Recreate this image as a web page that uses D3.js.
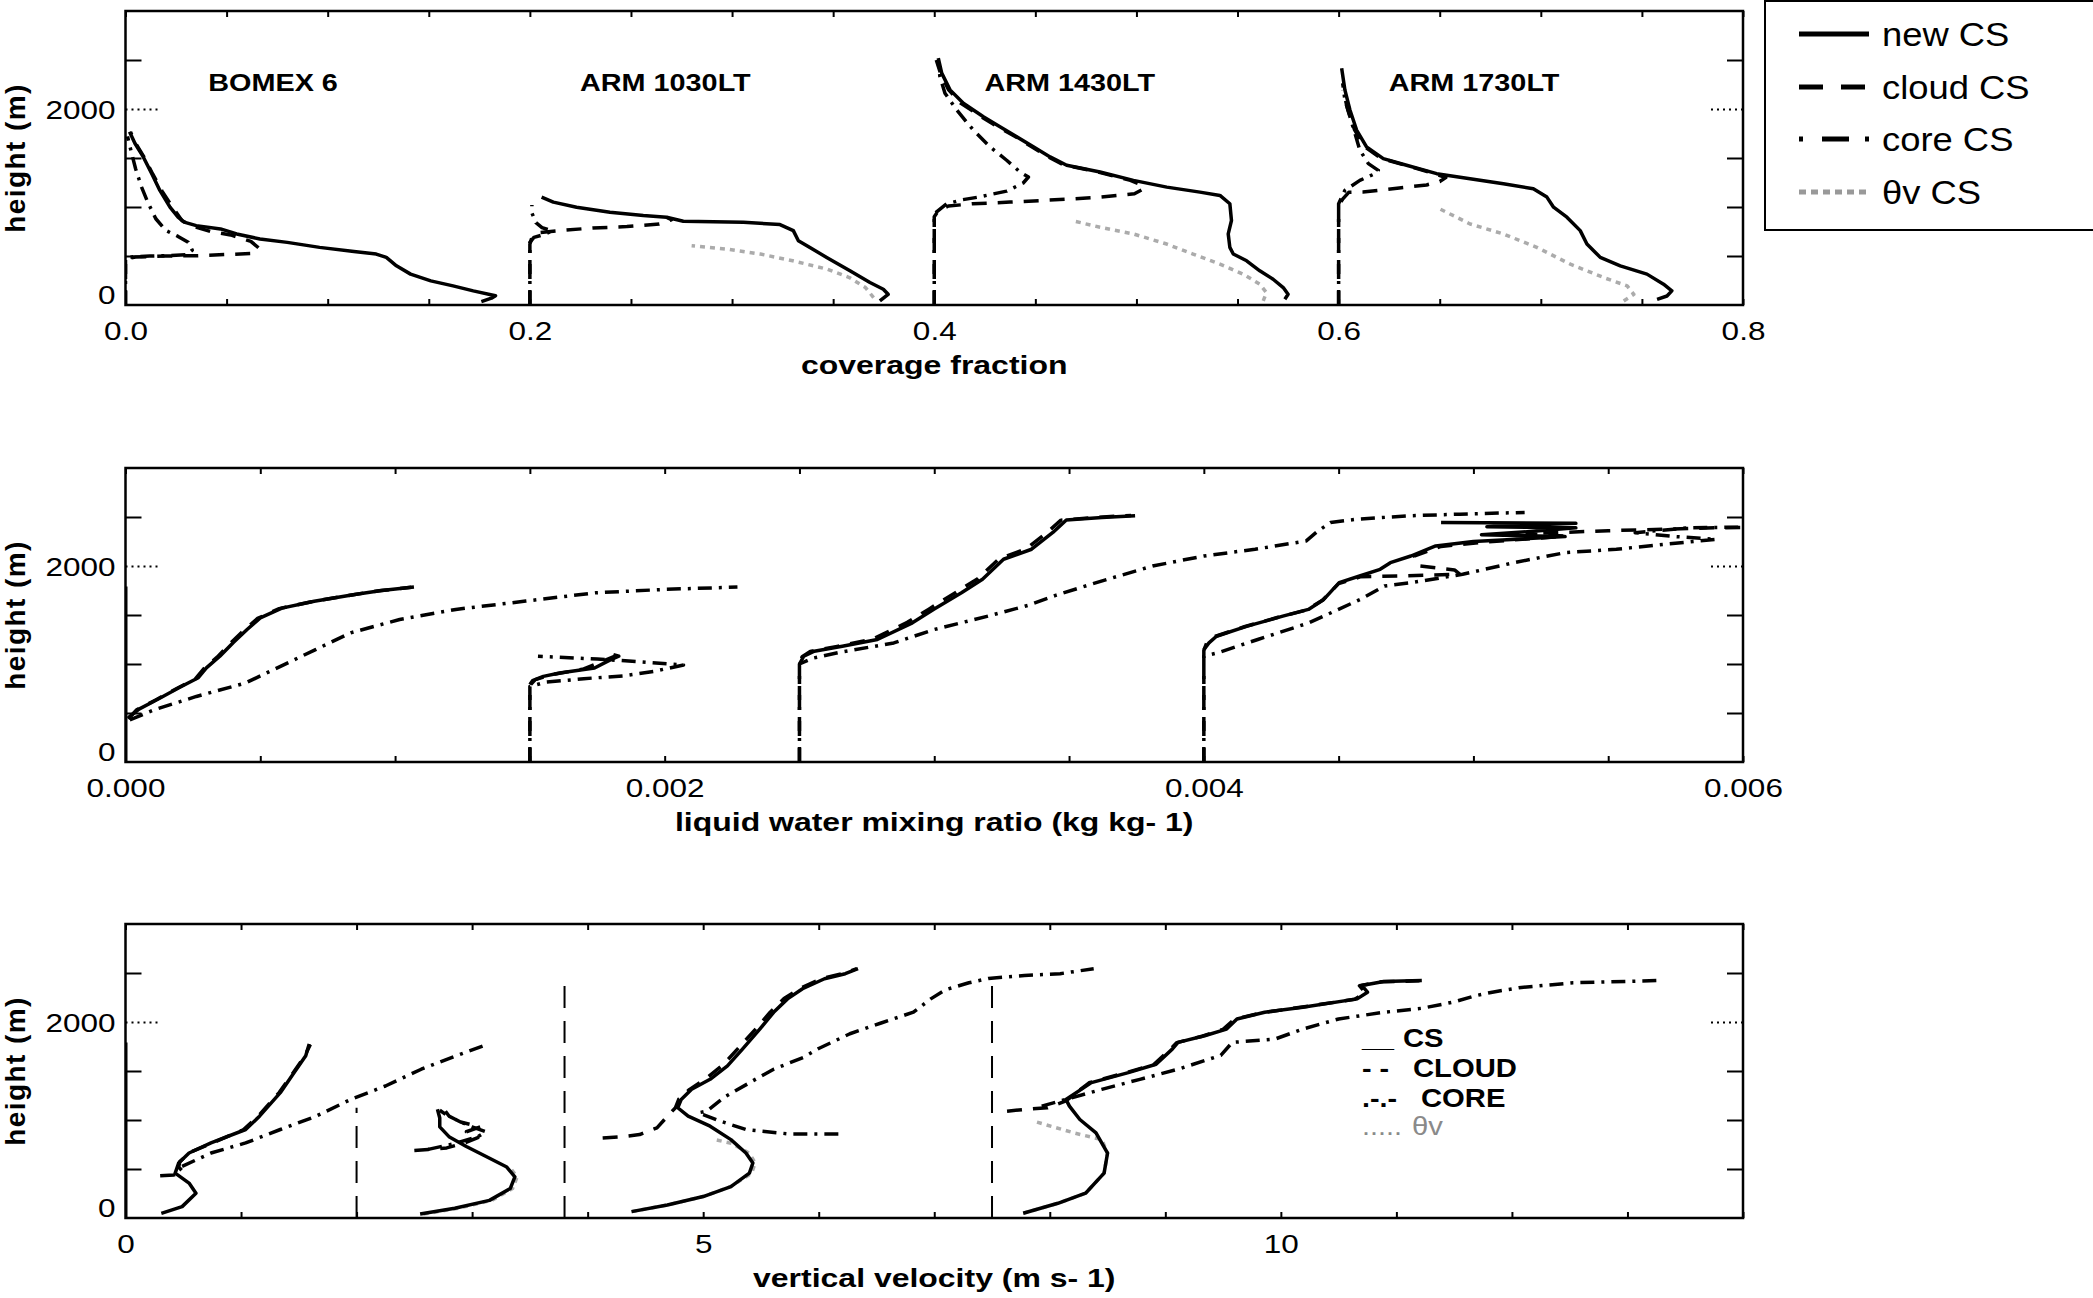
<!DOCTYPE html>
<html><head><meta charset="utf-8">
<script src="https://cdn.jsdelivr.net/npm/d3@7"></script>
<style>body{margin:0;background:#fff;} svg{display:block;}</style>
</head><body><svg id="chart" width="2093" height="1298"></svg>
<script>
// ---------------- DATA ----------------
// heights in m; x values as plotted (coverage curves offset by 0.2 per case)
const caseTitles = ['BOMEX 6', 'ARM 1030LT', 'ARM 1430LT', 'ARM 1730LT'];
const caseOffsets = [0, 0.2, 0.4, 0.6];

const covTicks = [0, 0.2, 0.4, 0.6, 0.8];
const covTickLabels = ['0.0', '0.2', '0.4', '0.6', '0.8'];
const qlTicks = [0, 0.002, 0.004, 0.006];
const qlTickLabels = ['0.000', '0.002', '0.004', '0.006'];
const wTicks = [0, 5, 10];
const wTickLabels = ['0', '5', '10'];
const heightTicks = [0, 2000];
const heightTickLabels = ['0', '2000'];
const heightMinorTicks = [500, 1000, 1500, 2500];

const legendLabels = ['new CS', 'cloud CS', 'core CS', '\u03b8v CS'];
const innerLegendSymbols = ['__', '- -', '.-.-', '.....'];
const innerLegendLabels = ['CS', 'CLOUD', 'CORE', '\u03b8v'];

// ---- panel 1: coverage fraction ----
const covBomexNew = [[0.176,35],[0.181,70],[0.183,95],[0.172,144],[0.162,195],[0.151,246],[0.141,315],[0.134,400],[0.129,486],[0.124,520],[0.113,547],[0.096,588],[0.080,639],[0.0665,674],[0.055,725],[0.047,776],[0.035,810],[0.029,845],[0.026,896],[0.022,998],[0.017,1169],[0.013,1340],[0.0088,1511],[0.0047,1648],[0.002,1768]];
const covBomexCloud = [[0,0],[0,470],[0.005,490],[0.02,500],[0.035,503],[0.05,515],[0.062,525],[0.066,580],[0.062,650],[0.052,715],[0.042,750],[0.034,800],[0.028,860],[0.0235,990],[0.018,1165],[0.0135,1335],[0.0093,1505],[0.0052,1645],[0.0025,1765]];
const covBomexCore = [[0,0],[0,480],[0.004,492],[0.012,500],[0.022,505],[0.03,512],[0.033,560],[0.031,640],[0.026,700],[0.02,760],[0.015,880],[0.011,1050],[0.008,1200],[0.005,1390],[0.003,1550],[0.001,1720]];

const covA1030New = [[0.3731,41],[0.3772,109],[0.3748,161],[0.3682,229],[0.3583,349],[0.3468,485],[0.3385,588],[0.3328,656],[0.3303,759],[0.3237,821],[0.3056,844],[0.2759,855],[0.2676,896],[0.2561,913],[0.2396,947],[0.2231,998],[0.2116,1050],[0.2058,1101]];
const covA1030Cloud = [[0.2,0],[0.2,620],[0.201,690],[0.205,740],[0.215,759],[0.231,786],[0.248,800],[0.264,827],[0.27,870],[0.2676,896]];
const covA1030Core = [[0.2,0],[0.2,640],[0.202,690],[0.207,720],[0.211,755],[0.206,790],[0.203,840],[0.201,940],[0.201,1020]];
const covA1030Thv = [[0.370,75],[0.366,178],[0.358,280],[0.347,366],[0.330,451],[0.314,520],[0.297,571],[0.280,605]];

const covA1430New = [[0.5734,58],[0.575,109],[0.5726,178],[0.5676,263],[0.561,349],[0.5545,451],[0.5479,520],[0.5462,588],[0.5454,725],[0.547,862],[0.5462,1033],[0.5413,1118],[0.5314,1152],[0.515,1203],[0.4985,1272],[0.482,1357],[0.4655,1426],[0.4573,1511],[0.449,1614],[0.4408,1716],[0.4325,1819],[0.4243,1921],[0.4144,2058],[0.4078,2195],[0.4037,2366],[0.402,2520]];
const covA1430Cloud = [[0.4,0],[0.4,900],[0.402,960],[0.407,1010],[0.419,1033],[0.4375,1050],[0.454,1067],[0.469,1084],[0.482,1101],[0.499,1135],[0.5036,1186],[0.502,1230],[0.497,1272],[0.481,1357],[0.464,1430],[0.456,1515],[0.448,1617],[0.44,1720],[0.431,1822],[0.423,1925],[0.413,2060],[0.407,2198],[0.403,2370],[0.401,2500]];
const covA1430Core = [[0.4,0],[0.4,930],[0.4061,1033],[0.4142,1075],[0.4218,1101],[0.4358,1162],[0.444,1245],[0.4466,1306],[0.4424,1357],[0.4358,1477],[0.4276,1614],[0.4193,1785],[0.4111,1990],[0.4053,2161],[0.4028,2332],[0.402,2468]];
const covA1430Thv = [[0.5627,41],[0.5643,127],[0.561,212],[0.5528,315],[0.5413,417],[0.528,520],[0.515,622],[0.4985,725],[0.482,793],[0.468,862]];

const covA1730New = [[0.7575,58],[0.7624,92],[0.7648,144],[0.7607,212],[0.7525,315],[0.7393,400],[0.7294,486],[0.7228,622],[0.7195,759],[0.7129,896],[0.7063,998],[0.703,1101],[0.6963,1186],[0.6815,1238],[0.665,1289],[0.6485,1340],[0.6336,1426],[0.6221,1494],[0.6138,1614],[0.6089,1785],[0.6056,1990],[0.6031,2195],[0.6015,2417]];
const covA1730Cloud = [[0.6,0],[0.6,1020],[0.602,1080],[0.605,1150],[0.612,1152],[0.63,1195],[0.6435,1225],[0.65,1260],[0.653,1300],[0.6475,1340],[0.6326,1428],[0.6211,1496],[0.6128,1616],[0.6079,1787],[0.6046,1990],[0.6021,2195]];
const covA1730Core = [[0.6,0],[0.6,1033],[0.6031,1170],[0.6105,1272],[0.618,1340],[0.6196,1374],[0.6147,1443],[0.6105,1580],[0.6081,1750],[0.6056,1921],[0.6031,2092],[0.602,2263]];
const covA1730Thv = [[0.741,41],[0.746,109],[0.7427,195],[0.7311,280],[0.7146,417],[0.698,588],[0.6815,725],[0.665,827],[0.650,981]];

// ---- panel 2: liquid water mixing ratio (kg/kg) ----
const bomexZeroLine = [[0,0],[0,1790]];
const qlBomexNew = [[0.00001,450],[0.00005,540],[0.00012,640],[0.0002,760],[0.00027,860],[0.0003,960],[0.00035,1080],[0.0004,1220],[0.00045,1350],[0.0005,1470],[0.00058,1570],[0.0007,1640],[0.00085,1710],[0.00095,1750],[0.00107,1785]];
const qlBomexCloud = [[0.00001,440],[0.00004,530],[0.00011,630],[0.00019,750],[0.00026,850],[0.00029,950],[0.00034,1070],[0.00039,1215],[0.00044,1345],[0.00049,1465],[0.00057,1565],[0.00069,1635],[0.00084,1705],[0.00094,1748],[0.00106,1782]];
const qlBomexCore = [[0.000016,430],[0.000107,533],[0.000263,669],[0.000445,806],[0.000575,976],[0.000705,1147],[0.000835,1318],[0.001017,1454],[0.001225,1557],[0.001485,1642],[0.001745,1727],[0.002006,1762],[0.00227,1785]];

const qlA1030New = [[0.0015,790],[0.00151,830],[0.00155,874],[0.00161,908],[0.00174,959],[0.0018,1045],[0.00183,1080],[0.00181,1096]];
const qlA1030Cloud = [[0.0015,0],[0.0015,780],[0.00152,840],[0.00158,890],[0.0017,950],[0.00178,1040],[0.00182,1085]];
const qlA1030Core = [[0.0015,0],[0.0015,770],[0.00156,815],[0.0017,850],[0.00185,880],[0.00196,925],[0.00207,990],[0.0019,1025],[0.00175,1050],[0.00153,1080]];

const qlA1430New = [[0.0025,1000],[0.002516,1079],[0.002555,1130],[0.002659,1181],[0.002789,1250],[0.002919,1420],[0.002997,1557],[0.003101,1727],[0.003179,1864],[0.003257,2069],[0.003361,2171],[0.00344,2342],[0.00349,2470],[0.003622,2495],[0.003745,2512]];
const qlA1430Cloud = [[0.0025,0],[0.0025,990],[0.00251,1075],[0.00254,1128],[0.00264,1180],[0.00277,1252],[0.0029,1425],[0.00298,1560],[0.00308,1730],[0.00316,1868],[0.00324,2072],[0.00334,2175],[0.00342,2345],[0.00347,2468],[0.0036,2497],[0.00373,2515]];
const qlA1430Core = [[0.0025,0],[0.0025,1000],[0.00255,1060],[0.00265,1120],[0.00285,1215],[0.003,1352],[0.0032,1489],[0.00335,1600],[0.00345,1700],[0.00362,1846],[0.00381,2000],[0.004,2102],[0.00419,2171],[0.00438,2256],[0.00442,2350],[0.00447,2444],[0.00457,2478],[0.00476,2512],[0.00495,2529],[0.00519,2547]];

const qlA1730New = [[0.004,1147],[0.004019,1215],[0.004047,1283],[0.004161,1386],[0.004293,1488],[0.004388,1557],[0.004445,1659],[0.004502,1830],[0.004578,1898],[0.004654,1966],[0.004692,2034],[0.004768,2102],[0.00486,2205],[0.0050,2250],[0.00534,2300],[0.00503,2320],[0.0052,2350],[0.00538,2390],[0.00505,2400],[0.00538,2435],[0.00488,2444]];
const qlA1730Cloud = [[0.004,0],[0.004,1140],[0.00401,1210],[0.00404,1280],[0.00415,1380],[0.00428,1480],[0.00438,1550],[0.00444,1650],[0.0045,1820],[0.00458,1890],[0.00475,1900],[0.00495,1915],[0.00493,1960],[0.0048,2000],[0.00478,2100],[0.00488,2200],[0.00505,2245],[0.00534,2305],[0.0052,2330],[0.0055,2360],[0.0059,2390],[0.0061,2395]];
const qlA1730Core = [[0.004,0],[0.004,1079],[0.00405,1113],[0.0042,1250],[0.00439,1420],[0.00458,1659],[0.00467,1796],[0.00477,1830],[0.00496,1915],[0.00515,2034],[0.00534,2136],[0.00553,2171],[0.00571,2222],[0.0059,2273],[0.00575,2300],[0.0056,2340],[0.0058,2390],[0.0061,2400]];

// ---- panel 3: vertical velocity (m/s) ----
const wBomexNew = [[0.31,48],[0.49,116],[0.61,253],[0.55,356],[0.43,458],[0.46,561],[0.55,663],[0.74,766],[1.04,903],[1.16,1039],[1.34,1279],[1.46,1484],[1.56,1655],[1.59,1775]];
const wBomexCloud = [[0.3,430],[0.42,440],[0.5,470],[0.46,520],[0.47,575],[0.56,670],[0.76,770],[1.02,900],[1.15,1040],[1.33,1280],[1.45,1480],[1.55,1650],[1.6,1770]];
const wBomexCore = [[0.49,527],[0.74,663],[1.04,766],[1.34,903],[1.65,1039],[1.95,1210],[2.25,1347],[2.56,1518],[2.86,1655],[3.1,1757]];

const wA1030New = [[2.55,40],[2.85,100],[3.15,180],[3.33,300],[3.37,420],[3.3,520],[3.1,640],[2.95,730],[2.8,830],[2.72,930],[2.72,1020],[2.7,1110]];
const wA1030Cloud = [[2.5,690],[2.62,700],[2.78,715],[2.92,760],[3.05,820],[2.95,880],[3.07,930],[2.9,980],[2.78,1050],[2.72,1100]];
const wA1030Core = [[2.62,700],[2.85,760],[3.05,830],[3.12,880],[3.0,930],[2.9,980],[2.8,1040],[2.75,1120]];
const wA1030Thv = [[2.58,40],[2.88,100],[3.17,180],[3.35,300],[3.39,420],[3.33,510]];

const wA1430New = [[4.38,65],[4.69,133],[5.0,219],[5.24,321],[5.4,458],[5.43,561],[5.37,663],[5.24,800],[5.06,937],[4.87,1039],[4.78,1125],[4.81,1210],[4.9,1313],[5.06,1415],[5.21,1552],[5.34,1723],[5.49,1928],[5.61,2099],[5.73,2236],[5.86,2339],[6.05,2441],[6.23,2493],[6.34,2544]];
const wA1430Cloud = [[4.13,817],[4.3,830],[4.45,851],[4.6,920],[4.7,1050],[4.76,1125],[4.79,1215],[4.88,1310],[5.02,1420],[5.17,1560],[5.31,1740],[5.46,1935],[5.58,2100],[5.7,2240],[5.84,2345],[6.03,2445],[6.22,2497],[6.33,2545]];
const wA1430Core = [[6.17,858],[5.74,858],[5.37,903],[5.15,988],[4.96,1074],[5.03,1090],[5.18,1230],[5.46,1420],[5.61,1518],[5.87,1640],[6.0,1730],[6.27,1880],[6.54,1990],[6.82,2100],[6.97,2236],[7.1,2330],[7.3,2400],[7.47,2445],[7.78,2475],[8.09,2493],[8.38,2544]];
const wA1430Thv = [[4.38,65],[4.69,133],[5.0,219],[5.24,321],[5.42,458],[5.45,561],[5.4,660],[5.25,760],[5.1,800]];

const wA1730New = [[7.77,48],[8.07,150],[8.31,253],[8.47,458],[8.5,663],[8.4,868],[8.26,1005],[8.17,1142],[8.14,1210],[8.36,1381],[8.68,1484],[8.92,1569],[9.06,1723],[9.11,1792],[9.34,1860],[9.53,1928],[9.62,2031],[9.86,2099],[10.19,2151],[10.66,2236],[10.75,2304],[10.7,2373],[10.89,2414],[11.22,2424]];
const wA1730Cloud = [[7.63,1090],[7.8,1110],[7.98,1125],[8.14,1195],[8.34,1380],[8.65,1480],[8.9,1565],[9.04,1720],[9.1,1790],[9.32,1855],[9.5,1925],[9.6,2030],[9.84,2095],[10.17,2150],[10.64,2232],[10.73,2300],[10.68,2370],[10.87,2410],[11.2,2420]];
const wA1730Core = [[7.93,1142],[8.14,1210],[8.45,1313],[8.78,1415],[9.11,1518],[9.48,1660],[9.58,1792],[9.95,1826],[10.19,1928],[10.5,2031],[10.89,2099],[11.22,2140],[11.5,2205],[11.69,2270],[11.83,2304],[12.06,2350],[12.53,2400],[13.3,2424]];
const wA1730Thv = [[7.77,48],[8.07,150],[8.31,253],[8.47,458],[8.5,663],[8.45,800],[8.21,868],[7.86,988]];

// separators in velocity panel: [x, top height]
const wSeparators = [[2.0,1125],[3.8,2440],[7.5,2420]];

// ---------------- DRAWING ----------------
const svg = d3.select('#chart');
const W = 2093, H = 1298;
svg.append('rect').attr('width', W).attr('height', H).attr('fill', '#fff');
const FONT = '"Liberation Sans", Arial, Helvetica, sans-serif';

const X0 = 125.5, X1 = 1743, PH = 294;
const styles = {
  thv:   {stroke: '#ababab', width: 3.5, dash: '5,5'},
  core:  {stroke: '#000', width: 3.5, dash: '14,7,3,7'},
  cloud: {stroke: '#000', width: 3.5, dash: '15,11'},
  nw:    {stroke: '#000', width: 3.5, dash: null},
  zero:  {stroke: '#000', width: 4, dash: null}
};

const panels = [
  {top: 11, xDomain: [0, 0.8], ticks: covTicks, labels: covTickLabels, minor: d3.range(0, 0.8001, 0.05),
   title: 'coverage fraction',
   series: [
     ['thv', covA1030Thv], ['thv', covA1430Thv], ['thv', covA1730Thv],
     ['core', covBomexCore], ['core', covA1030Core], ['core', covA1430Core], ['core', covA1730Core],
     ['cloud', covBomexCloud], ['cloud', covA1030Cloud], ['cloud', covA1430Cloud], ['cloud', covA1730Cloud],
     ['nw', covBomexNew], ['nw', covA1030New], ['nw', covA1430New], ['nw', covA1730New]
   ]},
  {top: 468, xDomain: [0, 0.006], ticks: qlTicks, labels: qlTickLabels, minor: d3.range(0, 0.0060001, 0.0005),
   title: 'liquid water mixing ratio (kg kg- 1)',
   series: [
     ['zero', bomexZeroLine],
     ['core', qlBomexCore], ['core', qlA1030Core], ['core', qlA1430Core], ['core', qlA1730Core],
     ['cloud', qlBomexCloud], ['cloud', qlA1030Cloud], ['cloud', qlA1430Cloud], ['cloud', qlA1730Cloud],
     ['nw', qlBomexNew], ['nw', qlA1030New], ['nw', qlA1430New], ['nw', qlA1730New]
   ]},
  {top: 924, xDomain: [0, 14], ticks: wTicks, labels: wTickLabels, minor: d3.range(0, 14.001, 1),
   title: 'vertical velocity (m s- 1)',
   series: [
     ['zero', bomexZeroLine],
     ['thv', wA1030Thv], ['thv', wA1430Thv], ['thv', wA1730Thv],
     ['core', wBomexCore], ['core', wA1030Core], ['core', wA1430Core], ['core', wA1730Core],
     ['cloud', wBomexCloud], ['cloud', wA1030Cloud], ['cloud', wA1430Cloud], ['cloud', wA1730Cloud],
     ['nw', wBomexNew], ['nw', wA1030New], ['nw', wA1430New], ['nw', wA1730New]
   ], separators: wSeparators}
];

const SX = 1.26; // horizontal stretch of the original lettering

panels.forEach((p, i) => {
  const x = d3.scaleLinear().domain(p.xDomain).range([X0, X1]);
  const y = d3.scaleLinear().domain([0, 3000]).range([p.top + PH, p.top]);
  const g = svg.append('g');
  const clipId = 'clip' + i;
  svg.append('clipPath').attr('id', clipId).append('rect')
    .attr('x', X0).attr('y', p.top).attr('width', X1 - X0).attr('height', PH);

  if (p.separators) {
    g.selectAll('.sep').data(p.separators).enter().append('line')
      .attr('x1', d => x(d[0])).attr('x2', d => x(d[0]))
      .attr('y1', y(0)).attr('y2', d => y(d[1]))
      .attr('stroke', '#000').attr('stroke-width', 2).attr('stroke-dasharray', '22,13');
  }

  const line = d3.line().x(d => x(d[0])).y(d => y(d[1]));
  const lg = g.append('g').attr('clip-path', `url(#${clipId})`);
  p.series.forEach(([k, data]) => {
    const s = styles[k];
    lg.append('path').datum(data).attr('d', line)
      .attr('fill', 'none').attr('stroke', s.stroke).attr('stroke-width', s.width)
      .attr('stroke-dasharray', s.dash).attr('stroke-linejoin', 'round');
  });

  g.append('rect').attr('x', X0).attr('y', p.top).attr('width', X1 - X0).attr('height', PH)
    .attr('fill', 'none').attr('stroke', '#000').attr('stroke-width', 2.5);

  const styleAxis = (sel) => {
    sel.select('.domain').remove();
    sel.selectAll('line').attr('stroke', '#000').attr('stroke-width', 2);
  };
  g.append('g').attr('transform', `translate(0,${p.top + PH})`)
    .call(d3.axisBottom(x).tickValues(p.minor).tickSize(-6).tickFormat('')).call(styleAxis);
  g.append('g').attr('transform', `translate(0,${p.top})`)
    .call(d3.axisTop(x).tickValues(p.minor).tickSize(-6).tickFormat('')).call(styleAxis);
  g.append('g').attr('transform', `translate(${X0},0)`)
    .call(d3.axisLeft(y).tickValues(heightMinorTicks).tickSize(-16).tickFormat('')).call(styleAxis);
  g.append('g').attr('transform', `translate(${X1},0)`)
    .call(d3.axisRight(y).tickValues(heightMinorTicks).tickSize(-16).tickFormat('')).call(styleAxis);
  g.append('g').attr('transform', `translate(${X0},0)`)
    .call(d3.axisLeft(y).tickValues([2000]).tickSize(-32).tickFormat('')).call(styleAxis)
    .selectAll('line').attr('stroke-dasharray', '2,4');
  g.append('g').attr('transform', `translate(${X1},0)`)
    .call(d3.axisRight(y).tickValues([2000]).tickSize(-32).tickFormat('')).call(styleAxis)
    .selectAll('line').attr('stroke-dasharray', '2,4');

  const xl = g.append('g').attr('transform', `translate(0,${p.top + PH})`)
    .call(d3.axisBottom(x).tickValues(p.ticks).tickSize(0).tickFormat((d, j) => p.labels[j]));
  xl.select('.domain').remove();
  xl.selectAll('text').attr('y', null).attr('dy', null)
    .attr('transform', `translate(0,35) scale(${SX},1)`)
    .attr('font-family', FONT).attr('font-size', 25).attr('fill', '#000');

  const yl = g.append('g').attr('transform', `translate(${X0},0)`)
    .call(d3.axisLeft(y).tickValues(heightTicks).tickSize(0).tickFormat((d, j) => heightTickLabels[j]));
  yl.select('.domain').remove();
  yl.selectAll('text').attr('x', null).attr('dy', null)
    .attr('transform', d => `translate(-10,${d === 0 ? -2 : 9}) scale(${SX},1)`)
    .attr('text-anchor', 'end')
    .attr('font-family', FONT).attr('font-size', 25).attr('fill', '#000');

  g.append('text').attr('transform', `translate(${(X0 + X1) / 2},${p.top + PH + 69}) scale(1.23,1)`)
    .attr('text-anchor', 'middle').attr('font-family', FONT).attr('font-weight', 'bold')
    .attr('font-size', 26).text(p.title);

  g.append('text').attr('transform', `translate(25,${p.top + PH / 2}) rotate(-90)`)
    .attr('text-anchor', 'middle').attr('font-family', FONT).attr('font-weight', 'bold')
    .attr('font-size', 28).attr('letter-spacing', 1.4).text('height  (m)');

  if (i === 0) {
    g.selectAll('.ct').data(caseTitles).enter().append('text')
      .attr('transform', (d, j) => `translate(${x(caseOffsets[j] + (j === 0 ? 0.073 : 0.067))},${p.top + 80}) scale(1.2,1)`)
      .attr('text-anchor', 'middle').attr('font-family', FONT).attr('font-weight', 'bold')
      .attr('font-size', 24).text(d => d);
  }

  if (i === 2) {
    const base = [1047, 1077, 1107, 1135];
    const labX = [1403, 1413, 1421, 1412];
    innerLegendSymbols.forEach((s, j) => {
      g.append('text').attr('transform', `translate(1362,${base[j]}) scale(1.15,1)`)
        .attr('font-family', FONT).attr('font-weight', j === 3 ? 'normal' : 'bold').attr('font-size', 25)
        .attr('fill', j === 3 ? '#8a8a8a' : '#000').text(s);
      g.append('text').attr('transform', `translate(${labX[j]},${base[j]}) scale(1.17,1)`)
        .attr('font-family', FONT).attr('font-weight', j === 3 ? 'normal' : 'bold').attr('font-size', 25)
        .attr('fill', j === 3 ? '#8a8a8a' : '#000').text(innerLegendLabels[j]);
    });
  }
});

// ---------------- LEGEND (top right) ----------------
const leg = svg.append('g');
leg.append('rect').attr('x', 1765).attr('y', 1).attr('width', 340).attr('height', 229)
  .attr('fill', '#fff').attr('stroke', '#000').attr('stroke-width', 2);
const legStyles = [
  {stroke: '#000', dash: null},
  {stroke: '#000', dash: '24,18'},
  {stroke: '#000', dash: '4,19,27,16,4'},
  {stroke: '#999', dash: '7,5'}
];
const legRows = [34, 87, 139, 192];
legendLabels.forEach((lab, j) => {
  leg.append('line').attr('x1', 1799).attr('x2', 1869).attr('y1', legRows[j]).attr('y2', legRows[j])
    .attr('stroke', legStyles[j].stroke).attr('stroke-width', 5).attr('stroke-dasharray', legStyles[j].dash);
  leg.append('text').attr('transform', `translate(1882,${legRows[j]}) scale(1.07,1)`).attr('dy', '0.36em')
    .attr('font-family', FONT).attr('font-size', 34).attr('fill', '#000').text(lab);
});
</script>
</body></html>
